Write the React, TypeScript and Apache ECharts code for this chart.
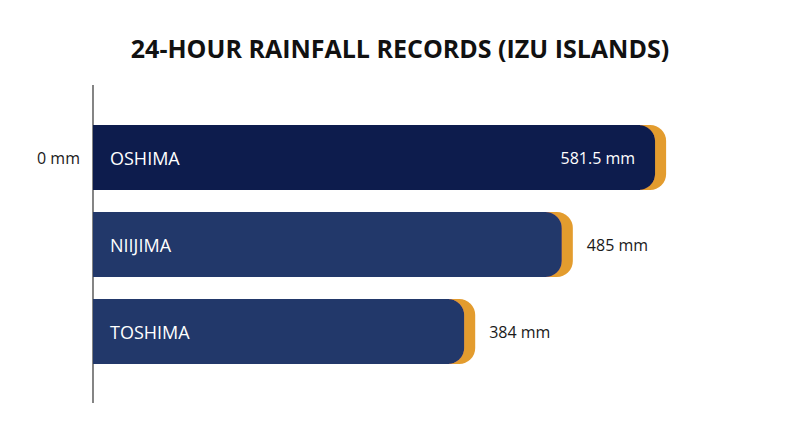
import React, { useEffect, useRef } from 'react';
import * as echarts from 'echarts';
import type { EChartsOption } from 'echarts';

const islands: string[] = ['OSHIMA', 'NIIJIMA', 'TOSHIMA'];
const rainfall: number[] = [581.5, 485, 384];
const barColors: string[] = ['#0c1f4e', '#22376a', '#22376a'];
const unit = 'mm';

const FONT = '"Open Sans", "Noto Sans", sans-serif';

const option: EChartsOption = {
  animation: false,
  backgroundColor: '#ffffff',
  title: {
    text: '24-HOUR RAINFALL RECORDS (IZU ISLANDS)',
    left: 'center',
    top: 30,
    textStyle: { fontFamily: FONT, fontSize: 25, fontWeight: 'bold', color: '#111111' },
  },
  grid: { left: 93, right: 127, top: 114, bottom: 72 },
  xAxis: {
    type: 'value',
    min: 0,
    max: 600,
    show: false,
  },
  yAxis: {
    type: 'category',
    data: islands,
    inverse: true,
    axisLine: { show: false },
    axisTick: { show: false },
    axisLabel: {
      inside: true,
      margin: 17,
      color: '#ffffff',
      fontFamily: FONT,
      fontSize: 18,
    },
    z: 5,
  },
  series: [
    {
      type: 'bar',
      barWidth: 65,
      data: rainfall.map((v, i) => ({
        value: v,
        itemStyle: { color: barColors[i] },
        label:
          i === 0
            ? { position: 'insideRight', distance: 20, color: '#ffffff' }
            : { position: 'right', distance: 25, color: '#1a1a1a' },
      })),
      itemStyle: {
        borderRadius: [0, 16, 16, 0],
        shadowColor: '#e39c2f',
        shadowOffsetX: 11,
        shadowOffsetY: 0,
        shadowBlur: 0,
      },
      label: {
        show: true,
        fontFamily: FONT,
        fontSize: 16,
        formatter: (p: any) => `${p.value} ${unit}`,
      },
    },
  ],
  graphic: [
    {
      type: 'line',
      shape: { x1: 93, y1: 85, x2: 93, y2: 403 },
      style: { stroke: '#333333', lineWidth: 1.2 },
    },
    {
      type: 'text',
      x: 80,
      y: 158,
      style: {
        text: `0 ${unit}`,
        align: 'right',
        verticalAlign: 'middle',
        fill: '#1a1a1a',
        fontFamily: FONT,
        fontSize: 16,
      },
    },
  ],
};

const App: React.FC = () => {
  const chartRef = useRef<HTMLDivElement>(null);

  useEffect(() => {
    if (!chartRef.current) return;
    const chart = echarts.init(chartRef.current, undefined, { renderer: 'svg' });
    chart.setOption(option);
    return () => chart.dispose();
  }, []);

  return <div ref={chartRef} style={{ width: 800, height: 447, margin: -8 }} />;
};

export default App;
